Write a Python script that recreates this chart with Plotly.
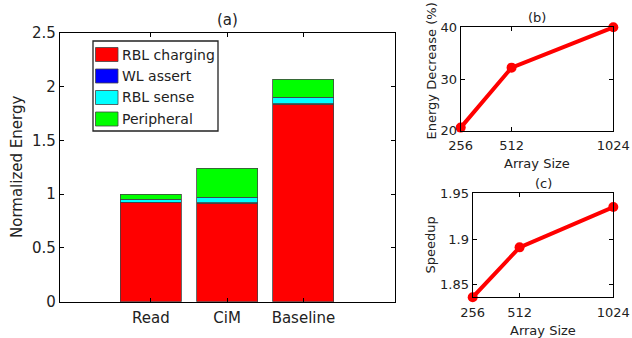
import plotly.graph_objects as go

W, H = 632, 338

# ---- data ----
categories = ["Read", "CiM", "Baseline"]
series_names = ["RBL charging", "WL assert", "RBL sense", "Peripheral"]
rbl_charging = [0.92, 0.915, 1.835]
wl_assert = [0.004, 0.004, 0.008]
rbl_sense = [0.03, 0.054, 0.058]
peripheral = [0.046, 0.269, 0.17]
series_values = [rbl_charging, wl_assert, rbl_sense, peripheral]
series_colors = ["#FF0000", "#0000FF", "#00FFFF", "#00FF00"]

array_size = [256, 512, 1024]
energy_decrease = [20.6, 32.2, 40.0]
speedup = [1.8365, 1.891, 1.935]

FONT = "DejaVu Sans"


def px(x):
    return x / W


def py(y):
    return 1 - y / H


fig = go.Figure()

xpos = list(range(1, len(categories) + 1))
for name, vals, col in zip(series_names, series_values, series_colors):
    fig.add_trace(go.Bar(
        x=xpos, y=vals, name=name, marker_color=col,
        marker_line_color="#444444", marker_line_width=0.8,
        width=0.8, xaxis="x", yaxis="y", showlegend=False))

line_style = dict(color="#FF0000", width=4)
fig.add_trace(go.Scatter(x=array_size, y=energy_decrease, mode="lines+markers",
                         line=line_style, marker=dict(size=10, color="#FF0000"),
                         xaxis="x2", yaxis="y2", showlegend=False, cliponaxis=False))
fig.add_trace(go.Scatter(x=array_size, y=speedup, mode="lines+markers",
                         line=line_style, marker=dict(size=10, color="#FF0000"),
                         xaxis="x3", yaxis="y3", showlegend=False, cliponaxis=False))


def ax(size, **kw):
    d = dict(showline=True, linecolor="black", linewidth=1.3, mirror="ticks",
             ticks="inside", ticklen=4, tickcolor="black", showgrid=False,
             zeroline=False, automargin=False,
             tickfont=dict(family=FONT, size=size, color="#222"))
    d.update(kw)
    return d


fig.update_layout(
    template="none",
    width=W, height=H, margin=dict(l=0, r=0, t=0, b=0, pad=0),
    paper_bgcolor="white", plot_bgcolor="white",
    barmode="stack", showlegend=False,
    font=dict(family=FONT, color="#222"),
    xaxis=ax(15, domain=[px(60), px(395)], range=[-0.19, 4.2],
             tickvals=xpos, ticktext=categories, anchor="y", ticklabelstandoff=2),
    yaxis=ax(15, domain=[py(301.7), py(33)], range=[0, 2.5],
             tickvals=[0, 0.5, 1, 1.5, 2, 2.5], ticktext=["0", "0.5", "1", "1.5", "2", "2.5"],
             anchor="x"),
    xaxis2=ax(13, domain=[px(460.7), px(613.3)], range=[256, 1024], anchor="y2",
              tickvals=array_size, ticktext=[str(v) for v in array_size], ticklabelstandoff=3),
    yaxis2=ax(13, domain=[py(130.7), py(27.3)], range=[20, 40], tickvals=[20, 30, 40],
              anchor="x2"),
    xaxis3=ax(13, domain=[px(472.7), px(613.3)], range=[256, 1024], anchor="y3",
              tickvals=array_size, ticktext=[str(v) for v in array_size], ticklabelstandoff=3),
    yaxis3=ax(13, domain=[py(297.3), py(193.3)], range=[1.8365, 1.95],
              tickvals=[1.85, 1.9, 1.95], ticktext=["1.85", "1.9", "1.95"],
              anchor="x3"),
)

ann = []


def text(x, y, s, size, angle=0):
    ann.append(dict(x=px(x), y=py(y), xref="paper", yref="paper", text=s,
                    showarrow=False, textangle=angle, xanchor="center", yanchor="middle",
                    font=dict(family=FONT, size=size, color="#222")))


text(227, 20, "(a)", 15)
text(17, 167, "Normalized Energy", 15, -90)
text(537, 17.5, "(b)", 13)
text(537, 163, "Array Size", 13)
text(431.5, 71, "Energy Decrease (%)", 13, -90)
text(543, 183, "(c)", 13)
text(543, 330, "Array Size", 13)
text(429.5, 245, "Speedup", 13, -90)

# custom legend box (matlab-like)
shapes = [dict(type="rect", xref="paper", yref="paper",
               x0=px(93), x1=px(218), y0=py(131), y1=py(41),
               line=dict(color="#222", width=1.3), fillcolor="white", layer="above")]
row_y0 = 54.5
row_dy = 21.5
for i, (name, col) in enumerate(zip(series_names, series_colors)):
    cy = row_y0 + i * row_dy
    shapes.append(dict(type="rect", xref="paper", yref="paper",
                       x0=px(95.5), x1=px(118), y0=py(cy + 7), y1=py(cy - 7),
                       line=dict(color="#444", width=0.8), fillcolor=col, layer="above"))
    ann.append(dict(x=px(119.5), y=py(cy), xref="paper", yref="paper", text=name,
                    showarrow=False, xanchor="left", yanchor="middle",
                    font=dict(family=FONT, size=14, color="#222")))

fig.update_layout(annotations=ann, shapes=shapes)
fig.write_html("out.html", config={"displayModeBar": False, "responsive": False},
               post_script="document.body.style.margin='0';document.body.style.overflow='hidden';")
